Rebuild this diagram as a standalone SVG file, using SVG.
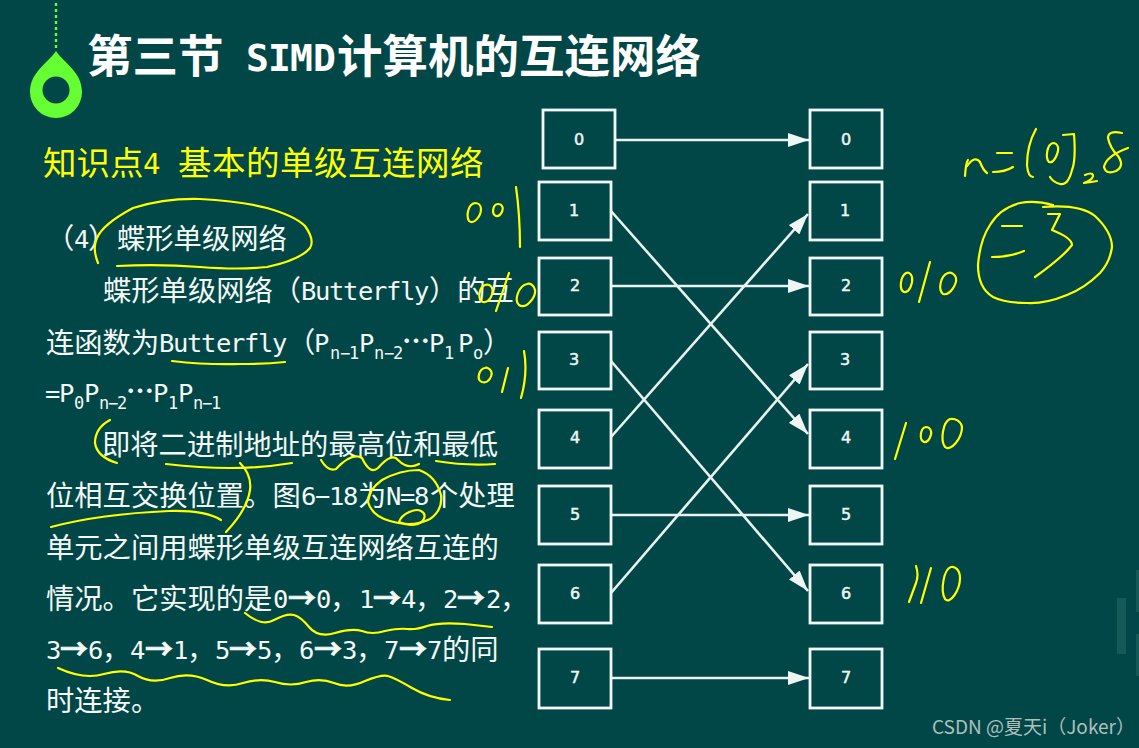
<svg xmlns="http://www.w3.org/2000/svg" width="1139" height="748" viewBox="0 0 1139 748">
<style>
text{font-family:"Noto Sans CJK SC","Noto Sans",sans-serif;fill:#f4f8f6}
.b{font-size:28.3px}
.l{font-family:"DejaVu Sans Mono","Liberation Mono",monospace;font-size:25.5px}
.s{font-family:"DejaVu Sans Mono","Liberation Mono",monospace;font-size:17px}
.a{font-size:28px;font-weight:700;stroke:#f4f8f6;stroke-width:.7}
.d{font-size:28px;font-weight:700}
.h{font-size:45.5px;font-weight:700;fill:#fff}
.hl{font-family:"DejaVu Sans Mono",monospace;font-size:38px;font-weight:700;fill:#fff}
.y{font-size:33.5px;fill:#ffff00}
.yl{font-family:"DejaVu Sans Mono",monospace;font-size:29px;fill:#ffff00}
.box{fill:none;stroke:#f2f7f5;stroke-width:2.8}
.n{font-family:"DejaVu Sans",sans-serif;font-size:16px;text-anchor:middle;fill:#eef5f3;stroke:#eef5f3;stroke-width:.5}
.c{stroke:#e9f2f0;stroke-width:2.6;fill:none;marker-end:url(#ah)}
.p{fill:none;stroke:#ffff00;stroke-width:2.2;stroke-linecap:round;stroke-linejoin:round}
</style>
<defs>
<marker id="ah" markerUnits="userSpaceOnUse" markerWidth="22" markerHeight="14" refX="21" refY="7" orient="auto"><path d="M0 0L21 7L0 14Z" fill="#eef5f3"/></marker>
</defs>
<rect width="1139" height="748" fill="#014747"/>
<rect x="1117" y="598" width="9" height="56" fill="#155a58"/>
<rect x="1136" y="570" width="3" height="42" fill="#155a58"/>
<rect x="1136" y="634" width="3" height="42" fill="#155a58"/>

<g id="logo">
<line x1="56" y1="3" x2="56" y2="50" stroke="#66ff33" stroke-width="2.4" stroke-dasharray="3 3"/>
<path d="M56 51C48 63 30 72 30 92A26 26 0 0 0 82 92C82 72 64 63 56 51Z" fill="#66ff33"/>
<circle cx="56" cy="90" r="13.5" fill="#014747"/>
</g>

<g id="title">
<text class="h" x="87" y="73">第三节</text>
<text class="hl" x="246 268 290 313" y="71">SIMD</text>
<text class="h" x="337" y="73">计算机的互连网络</text>
</g>
<g id="subtitle">
<text class="y" x="43" y="175">知识点</text>
<text class="yl" x="143" y="174">4</text>
<text class="y" x="178" y="175" letter-spacing=".5">基本的单级互连网络</text>
</g>

<g id="body">
<text class="b" x="46" y="249">（</text><text class="l" x="74" y="248">4</text><text class="b" x="88" y="249">）</text>
<text class="b" x="117" y="249">蝶形单级网络</text>

<text class="b" x="103" y="301">蝶形单级网络（</text>
<text class="l" x="301 315 329 343 358 372 386 400 414" y="300">Butterfly</text>
<text class="b" x="429" y="301">）的互</text>

<text class="b" x="46" y="353">连函数为</text>
<text class="l" x="159 173 187 201 216 230 244 258 272" y="352">Butterfly</text>
<text class="b" x="287" y="353">（</text>
<text class="l" x="314" y="352">P</text><text class="s" x="330 340 349" y="359">n−1</text>
<text class="l" x="359" y="352">P</text><text class="s" x="374 384 393" y="359">n−2</text>
<text class="d" x="402" y="352">⋯</text>
<text class="l" x="429" y="352">P</text><text class="s" x="444" y="359">1</text>
<text class="l" x="458" y="352">P</text><text class="s" x="473" y="359">o</text>
<text class="b" x="483" y="353">）</text>

<text class="l" x="45" y="402">=</text>
<text class="l" x="59" y="402">P</text><text class="s" x="74" y="409">0</text>
<text class="l" x="84" y="402">P</text><text class="s" x="99 108 117" y="409">n−2</text>
<text class="d" x="126" y="402">⋯</text>
<text class="l" x="153" y="402">P</text><text class="s" x="168" y="409">1</text>
<text class="l" x="178" y="402">P</text><text class="s" x="193 202 211" y="409">n−1</text>

<text class="b" x="102" y="455">即将二进制地址的最高位和最低</text>

<text class="b" x="46" y="506">位相互交换位置。图</text>
<text class="l" x="301 315 329 343" y="505">6−18</text>
<text class="b" x="358" y="506">为</text>
<text class="l" x="386 400 414" y="505">N=8</text>
<text class="b" x="430" y="506">个处理</text>

<text class="b" x="46" y="558">单元之间用蝶形单级互连网络互连的</text>

<text class="b" x="46" y="609">情况。它实现的是</text>
<text class="l" x="273" y="608">0</text><text class="a" x="288" y="609">→</text><text class="l" x="316" y="608">0</text><text class="b" x="330" y="609">，</text>
<text class="l" x="359" y="608">1</text><text class="a" x="373" y="609">→</text><text class="l" x="401" y="608">4</text><text class="b" x="415" y="609">，</text>
<text class="l" x="443" y="608">2</text><text class="a" x="457" y="609">→</text><text class="l" x="486" y="608">2</text><text class="b" x="500" y="609">，</text>

<text class="l" x="46" y="659">3</text><text class="a" x="60" y="660">→</text><text class="l" x="88" y="659">6</text><text class="b" x="102" y="660">，</text>
<text class="l" x="130" y="659">4</text><text class="a" x="145" y="660">→</text><text class="l" x="173" y="659">1</text><text class="b" x="187" y="660">，</text>
<text class="l" x="215" y="659">5</text><text class="a" x="229" y="660">→</text><text class="l" x="257" y="659">5</text><text class="b" x="271" y="660">，</text>
<text class="l" x="299" y="659">6</text><text class="a" x="314" y="660">→</text><text class="l" x="342" y="659">3</text><text class="b" x="356" y="660">，</text>
<text class="l" x="384" y="659">7</text><text class="a" x="399" y="660">→</text><text class="l" x="427" y="659">7</text><text class="b" x="442" y="660">的同</text>

<text class="b" x="46" y="711">时连接。</text>
</g>

<g id="connectors">
<line class="c" x1="615" y1="140" x2="809" y2="140"/>
<line class="c" x1="611" y1="211" x2="808" y2="434"/>
<line class="c" x1="611" y1="286" x2="809" y2="286"/>
<line class="c" x1="611" y1="361" x2="808" y2="591"/>
<line class="c" x1="611" y1="437" x2="808" y2="214"/>
<line class="c" x1="611" y1="515" x2="809" y2="515"/>
<line class="c" x1="611" y1="593" x2="808" y2="364"/>
<line class="c" x1="611" y1="678" x2="809" y2="678"/>
</g>

<g id="src-0"><rect class="box" x="543" y="110" width="72" height="58"/><text class="n" x="579" y="145">0</text></g>
<g id="src-1"><rect class="box" x="539" y="182" width="72" height="58"/><text class="n" x="574" y="216">1</text></g>
<g id="src-2"><rect class="box" x="539" y="258" width="72" height="57"/><text class="n" x="575" y="291">2</text></g>
<g id="src-3"><rect class="box" x="539" y="332" width="72" height="57"/><text class="n" x="574" y="365">3</text></g>
<g id="src-4"><rect class="box" x="539" y="410" width="72" height="58"/><text class="n" x="575" y="443">4</text></g>
<g id="src-5"><rect class="box" x="539" y="486" width="72" height="58"/><text class="n" x="575" y="520">5</text></g>
<g id="src-6"><rect class="box" x="539" y="565" width="72" height="58"/><text class="n" x="575" y="599">6</text></g>
<g id="src-7"><rect class="box" x="539" y="649" width="72" height="59"/><text class="n" x="575" y="683">7</text></g>
<g id="dst-0"><rect class="box" x="810" y="110" width="72" height="58"/><text class="n" x="846" y="145">0</text></g>
<g id="dst-1"><rect class="box" x="810" y="182" width="72" height="58"/><text class="n" x="845" y="216">1</text></g>
<g id="dst-2"><rect class="box" x="810" y="258" width="72" height="57"/><text class="n" x="846" y="291">2</text></g>
<g id="dst-3"><rect class="box" x="810" y="332" width="72" height="57"/><text class="n" x="845" y="365">3</text></g>
<g id="dst-4"><rect class="box" x="810" y="410" width="72" height="58"/><text class="n" x="846" y="443">4</text></g>
<g id="dst-5"><rect class="box" x="810" y="486" width="72" height="58"/><text class="n" x="846" y="520">5</text></g>
<g id="dst-6"><rect class="box" x="810" y="565" width="72" height="58"/><text class="n" x="846" y="599">6</text></g>
<g id="dst-7"><rect class="box" x="810" y="649" width="72" height="59"/><text class="n" x="846" y="683">7</text></g>

<g id="ink">
<path class="p" d="M98 263Q92 248 97 238Q103 224 133 208Q165 198 200 199Q240 201 267 208Q295 216 305 226Q315 240 310 248Q300 260 267 267Q240 270 200 267Q160 264 117 266"/>
<path class="p" d="M172 361Q207 365 240 364Q265 364 285 362"/>
<path class="p" d="M475 203C468 204 466 216 469 221C474 225 481 216 481 209C481 205 478 203 475 203ZM498 204C493 204 491 214 496 216C501 217 504 209 502 206C501 204 499 204 498 204ZM516 187Q520 215 520 247"/>
<path class="p" d="M485 285C479 287 477 300 483 302C490 303 494 293 492 288C491 285 488 284 485 285ZM509 273L496 311M527 284C518 286 514 301 519 305C526 310 536 297 535 290C534 285 530 283 527 284Z"/>
<path class="p" d="M485 368C479 369 476 380 482 382C489 384 493 375 491 371C490 369 487 367 485 368ZM508 368L502 392M524 351Q528 373 521 398"/>
<path class="p" d="M110 420Q95 428 95 443Q97 457 117 463"/>
<path class="p" d="M166 464Q200 468 230 468Q262 468 292 463"/>
<path class="p" d="M240 463Q252 475 250 490Q247 510 226 532"/>
<path class="p" d="M321 460Q328 472 336 469Q352 452 362 458Q370 475 378 468Q392 452 398 460Q408 470 419 464"/>
<path class="p" d="M436 461Q466 466 495 464"/>
<path class="p" d="M51 527Q100 514 169 511Q205 510 221 520"/>
<path class="p" d="M382 480Q368 490 368 502Q372 516 390 521Q412 528 430 519Q443 510 441 495Q436 476 419 470Q400 470 382 480"/>
<path class="p" d="M399 522C402 513 416 508 421 511C427 514 425 521 418 524C411 526 405 525 399 522Z"/>
<path class="p" d="M245 613Q262 627 274 620Q287 613 294 615Q301 617 309 627Q318 638 335 633Q352 628 362 631Q372 635 385 631Q399 628 407 629Q416 630 427 626Q439 622 465 624L492 627"/>
<path class="p" d="M58 668Q84 680 104 674Q125 668 138 676Q152 684 170 678Q189 672 207 680Q226 689 243 683Q260 678 275 682Q291 687 306 682Q321 678 334 683Q348 689 365 681Q382 674 388 676Q395 678 412 688Q429 698 450 700"/>
<path class="p" d="M965 176Q966 162 968 160M967 166Q975 155 980 162Q983 170 987 173"/>
<path class="p" d="M993 172Q1005 172 1013 167M997 153L1012 153"/>
<path class="p" d="M1036 129Q1027 145 1027 165Q1028 177 1033 177"/>
<path class="p" d="M1053 143C1047 144 1045 158 1049 162C1054 164 1059 152 1058 147C1057 144 1055 143 1053 143Z"/>
<path class="p" d="M1063 135L1074 134Q1076 160 1072 170Q1068 186 1060 184Q1053 182 1050 177"/>
<path class="p" d="M1085 175Q1092 172 1093 175Q1094 179 1084 183Q1092 182 1097 181"/>
<path class="p" d="M1122 133Q1108 130 1108 138Q1110 148 1118 156Q1125 166 1116 171Q1106 175 1104 167Q1106 156 1128 148"/>
<path class="p" d="M1043 207Q1080 204 1095 216Q1112 232 1112 247Q1110 262 1100 273Q1085 288 1067 295Q1045 304 1027 303Q1005 303 993 297Q978 288 978 265Q980 240 990 225Q1000 208 1020 203Q1035 200 1053 205"/>
<path class="p" d="M1002 226L1022 226M992 257Q1010 257 1024 251"/>
<path class="p" d="M1048 214L1060 214Q1056 222 1052 230Q1072 238 1072 245Q1063 257 1035 277"/>
<path class="p" d="M906 273C900 277 899 290 904 292C910 293 913 282 912 277C911 273 908 272 906 273ZM930 262L919 302M948 273C940 276 938 290 943 294C950 296 957 284 956 278C955 274 951 272 948 273Z"/>
<path class="p" d="M906 423L895 459M926 427C920 428 919 440 924 442C929 443 932 434 931 431C930 428 928 427 926 427ZM950 419C943 422 940 440 945 447C951 452 962 438 962 427C961 421 955 418 950 419Z"/>
<path class="p" d="M916 566Q919 575 916 583L909 602M931 568L921 603M951 567C944 569 940 590 945 599C950 605 960 590 960 578C960 570 955 566 951 567Z"/>
</g>

<text id="watermark" x="932" y="734" font-size="19" style="fill:#aebfbd">CSDN @夏天i（Joker）</text>
</svg>
